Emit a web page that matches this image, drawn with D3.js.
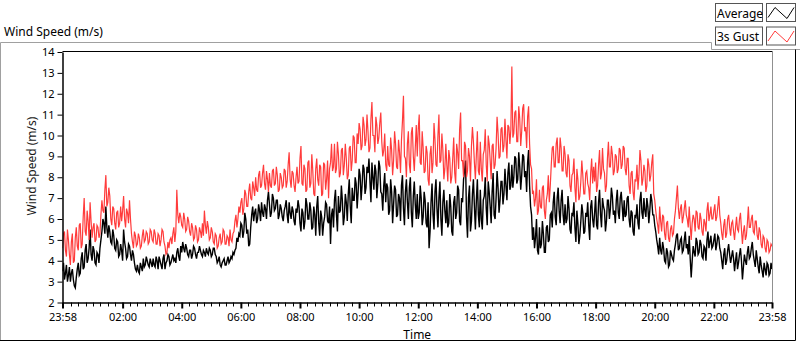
<!DOCTYPE html>
<html>
<head>
<meta charset="utf-8">
<script src="https://cdn.jsdelivr.net/npm/d3@7"></script>
<style>
  body { margin: 0; background: #fff; }
  svg { display: block; font-family: "Noto Sans", "Open Sans", sans-serif; }
</style>
</head>
<body>
<svg id="chart" width="800" height="342"></svg>
<script>
// samples every 2 minutes, first one at 23:58 the day before
const startTime = '23:58';
const sampleMinutes = 2;

// Average wind speed (m/s), one row per hour
const avgSpeed = [
  3.5,3.9,3.1,3.4,3.8,3.0,3.3,3.7,3.0,3.4,3.6,3.1,2.8,2.7,3.2,3.6,3.9,3.3,3.4,4.1,4.4,3.6,3.7,4.5,4.8,3.9,4.1,4.6,5.5,4.3,
  4.0,4.7,4.5,3.9,3.8,4.4,4.3,3.9,4.6,5.0,5.4,6.0,5.8,5.3,6.6,5.6,5.1,5.7,5.4,4.9,4.8,5.5,5.2,4.6,4.5,5.0,4.9,4.2,4.3,4.8,
  4.5,4.0,5.5,4.9,4.6,4.1,4.2,4.8,4.7,4.3,4.0,4.5,4.3,3.9,3.6,3.5,3.8,3.5,3.4,3.9,3.7,3.5,4.1,3.7,3.8,4.2,4.0,3.8,3.7,4.1,
  3.9,3.7,4.1,3.8,3.7,4.2,4.0,3.6,4.2,4.0,3.8,3.6,4.1,4.3,3.6,3.9,4.0,4.3,4.2,3.8,3.9,4.1,4.3,4.0,4.1,3.9,4.4,4.6,4.2,4.0,
  4.7,4.4,4.9,4.6,4.4,4.8,4.6,4.3,4.2,4.5,4.5,4.1,4.3,4.7,4.6,4.3,4.1,4.4,4.4,4.7,4.5,4.3,4.2,4.5,4.4,4.2,4.6,4.4,4.3,4.6,
  4.5,4.2,4.3,4.6,4.6,4.3,4.2,3.9,4.0,4.2,3.8,3.7,3.9,4.0,4.1,3.8,3.8,4.0,4.2,3.9,4.0,4.2,4.1,4.4,4.3,4.5,4.6,5.1,4.9,5.3,
  5.2,5.8,5.7,5.1,5.4,6.3,6.0,5.3,5.5,4.7,4.8,5.6,6.2,6.6,5.9,6.3,6.5,5.8,6.0,6.7,6.4,5.9,6.8,6.3,6.1,6.7,6.5,6.0,6.9,7.3,
  6.7,6.1,6.3,7.2,7.0,6.4,6.5,6.9,6.9,6.0,6.2,6.7,6.5,6.1,5.9,6.4,6.6,6.9,6.2,5.8,6.8,6.3,6.0,6.6,6.4,5.9,5.7,6.5,6.3,6.9,
  6.6,5.8,5.4,6.5,6.3,5.5,5.9,7.0,6.7,6.0,6.0,6.8,6.4,5.5,5.6,6.6,6.2,5.2,6.6,7.1,5.8,5.2,6.4,6.1,5.2,5.8,6.1,6.8,6.7,5.9,
  5.8,6.6,4.8,6.2,6.5,5.6,6.9,7.4,6.2,5.4,7.1,6.3,6.4,7.6,6.9,5.7,6.1,7.2,6.8,5.9,7.2,7.9,6.6,5.8,7.5,6.9,6.9,8.0,7.7,6.5,
  7.3,8.4,8.1,6.9,7.6,8.6,8.4,7.2,7.5,8.5,8.2,8.9,7.8,6.8,8.7,8.0,7.4,8.6,8.3,7.0,7.7,8.8,8.5,7.3,7.2,6.4,7.6,8.2,6.8,7.7,
  7.5,6.2,6.4,7.9,7.3,5.8,6.7,7.6,7.4,6.1,6.2,7.2,7.0,5.9,7.6,8.1,6.5,5.7,7.3,7.9,6.8,6.0,7.5,8.0,6.3,5.6,7.1,7.8,6.7,6.0,
  7.2,6.0,6.3,7.6,7.0,5.7,6.1,7.3,6.9,5.8,5.6,6.8,4.6,5.4,6.8,7.7,6.2,5.5,7.3,7.9,6.5,5.6,7.0,7.8,6.0,5.2,6.8,7.4,6.4,5.8,
  6.9,5.6,5.8,7.2,6.6,5.4,5.2,6.8,7.1,6.0,6.3,7.6,7.4,5.9,5.7,7.0,6.8,7.9,8.3,8.8,6.1,5.1,7.0,7.6,5.4,5.9,7.2,7.9,6.6,5.5,
  6.9,7.9,6.2,5.6,7.4,6.0,5.5,6.9,7.1,8.0,6.5,5.7,7.8,7.3,6.6,5.8,7.3,8.2,6.2,6.0,7.0,8.3,7.5,6.3,6.9,7.8,7.8,6.7,7.2,8.4,
  7.6,6.9,8.2,8.7,7.4,7.6,8.6,7.5,8.0,9.0,8.9,7.7,7.9,9.2,8.5,7.4,8.1,9.1,9.0,8.0,8.3,7.3,8.7,9.3,7.6,6.6,6.2,5.0,5.6,4.6,
  5.1,6.0,4.5,4.3,5.6,4.6,4.8,5.9,5.3,4.4,4.4,5.6,5.7,4.9,5.0,6.2,6.3,5.6,6.8,7.3,6.1,5.7,7.0,7.5,6.4,5.8,6.9,7.4,6.2,5.7,
  6.7,5.8,6.0,7.1,6.5,5.5,5.3,6.3,6.2,6.8,5.6,4.9,6.4,5.8,4.8,5.2,5.9,6.7,6.3,5.3,5.4,6.3,6.1,6.8,5.7,5.0,6.6,6.9,6.0,5.6,
  6.3,7.1,5.7,5.5,6.8,7.4,6.2,5.6,7.0,6.6,6.4,5.4,5.9,6.9,6.9,6.0,6.5,7.5,7.1,6.2,6.4,5.8,6.9,7.4,6.3,6.0,7.0,7.3,6.6,5.9,
  6.9,6.1,6.2,7.0,7.1,6.0,5.6,6.4,6.3,5.4,5.2,6.2,6.1,6.7,5.8,5.5,6.9,7.3,6.3,6.0,7.0,6.4,6.1,7.0,6.6,5.8,6.4,7.2,6.9,6.2,
  6.2,5.7,5.4,5.0,4.7,4.3,5.1,4.5,4.3,4.9,4.6,4.0,3.9,4.6,4.4,3.7,3.8,4.5,4.3,4.1,4.0,4.5,4.8,5.2,5.3,4.5,4.6,5.0,5.1,4.4,
  4.5,5.0,5.4,4.6,4.8,4.3,5.2,4.1,3.2,4.0,4.7,4.4,4.2,5.1,4.9,4.3,4.4,5.0,4.8,4.2,4.1,4.7,4.6,4.0,5.0,5.4,4.6,4.9,5.2,4.6,
  4.7,5.0,5.3,4.5,4.8,5.2,5.1,4.6,4.4,4.0,3.6,4.3,4.6,3.8,4.0,4.5,4.8,4.3,3.9,4.2,4.5,4.1,3.5,4.0,4.4,3.6,3.9,4.3,4.6,4.0,
  3.1,3.7,4.3,4.0,3.8,4.4,4.7,4.1,4.2,4.6,4.9,4.3,4.0,3.7,4.5,4.1,3.7,3.4,4.2,3.8,3.5,3.2,3.9,3.6,3.3,3.9,3.8,3.3,3.4,3.9,3.6
];

// 3 second gust (m/s)
const gustSpeed = [
  4.6,5.3,5.4,4.5,4.2,5.5,5.0,4.3,3.8,4.9,5.3,3.9,4.0,5.1,5.6,4.7,4.5,5.7,5.8,4.6,4.8,6.1,7.0,5.4,5.2,6.4,5.9,5.0,6.8,5.9,
  5.1,5.6,5.8,4.9,5.0,5.7,5.6,5.1,5.3,6.2,6.9,6.4,6.3,7.4,8.1,6.6,6.8,7.5,7.1,6.0,5.7,6.6,6.5,5.8,5.5,6.3,6.4,5.6,5.8,6.6,
  5.9,6.4,7.1,6.0,5.6,6.5,6.3,5.8,6.9,6.0,5.3,4.9,4.6,5.4,5.2,4.7,4.8,5.3,5.1,4.6,4.7,5.2,5.5,4.9,5.0,5.4,5.3,4.8,4.9,5.5,
  5.4,5.0,4.9,5.5,5.3,4.8,4.8,5.3,5.2,4.7,5.0,5.5,5.4,4.9,4.7,4.3,4.4,4.9,4.6,5.0,5.1,4.8,5.3,5.6,4.9,5.4,7.4,6.2,5.8,6.3,
  6.1,5.7,5.6,6.3,6.0,5.4,5.5,6.1,5.9,5.4,5.2,5.8,5.6,5.0,5.1,5.7,5.5,4.9,5.0,5.6,5.4,5.1,5.8,5.2,6.4,5.7,5.3,5.9,5.6,5.0,
  5.1,5.6,5.4,4.9,4.8,5.3,5.2,4.6,4.7,5.1,5.3,4.8,4.9,5.5,5.4,4.8,4.8,5.2,5.1,4.7,5.5,5.0,4.9,5.3,5.4,5.9,6.2,5.6,6.0,6.6,
  6.3,6.8,7.0,6.2,6.5,7.4,7.2,6.6,6.6,7.3,7.7,7.0,6.9,7.8,7.5,7.1,8.0,7.4,7.3,8.1,8.3,7.5,7.6,8.2,8.6,7.7,7.4,8.3,7.9,7.3,
  8.2,7.6,7.5,8.3,8.4,7.6,7.7,8.5,8.1,7.3,7.4,8.2,8.0,7.5,7.6,8.4,8.3,7.5,7.8,8.6,9.2,7.9,7.5,8.3,8.2,7.6,7.3,8.0,8.5,7.7,
  7.8,8.9,9.5,7.7,7.6,8.6,8.4,7.3,7.4,8.7,8.8,7.5,7.7,9.1,8.3,7.2,7.1,8.4,8.9,7.9,7.6,8.6,8.5,7.1,7.2,8.7,8.6,7.4,7.9,8.8,
  7.0,8.4,8.7,9.6,8.3,8.5,9.6,8.2,8.4,9.7,9.1,8.0,8.2,9.3,9.4,8.1,8.6,9.6,8.9,7.9,8.1,9.4,9.5,8.3,8.8,10.0,9.9,8.7,8.7,10.1,
  9.6,10.6,10.3,9.3,9.5,10.9,10.5,9.5,9.8,11.0,10.2,9.2,9.4,10.8,11.6,10.0,10.0,9.2,10.9,10.5,9.6,9.9,10.6,11.1,9.7,9.0,9.3,10.1,8.6,8.3,
  9.5,8.6,8.5,9.9,9.3,8.1,8.8,10.2,9.6,8.5,8.4,9.8,9.2,8.2,9.8,10.7,11.9,9.0,8.9,8.0,9.6,10.2,8.6,8.2,10.1,10.4,9.0,8.3,9.4,10.5,
  9.0,10.3,11.0,8.7,8.6,10.2,9.4,8.2,8.3,9.5,9.2,7.9,7.6,9.1,9.5,8.2,8.7,10.6,9.8,8.6,8.5,10.0,11.0,8.7,8.8,10.1,9.3,7.9,8.4,9.6,
  8.6,7.8,9.3,8.9,7.7,8.0,8.9,9.9,8.2,7.7,9.6,9.2,8.4,10.3,11.1,8.8,8.8,8.0,9.7,9.5,8.0,8.3,9.4,9.0,7.8,9.5,10.4,9.7,8.7,7.9,
  9.1,10.2,8.3,8.1,9.7,8.4,7.8,9.1,9.3,10.3,8.6,7.8,10.0,9.6,8.8,7.9,9.5,9.6,8.4,8.6,9.4,10.9,10.1,8.9,9.0,10.3,10.4,9.2,9.5,10.8,
  9.8,8.9,10.5,10.4,9.6,10.3,13.3,9.9,10.1,11.1,11.2,9.7,9.7,11.4,10.8,9.5,10.2,11.3,11.5,10.2,10.4,9.4,10.9,11.4,9.6,8.6,8.4,7.2,7.3,6.6,
  7.0,7.9,6.2,6.4,7.4,6.6,6.5,7.5,7.6,6.4,6.0,6.9,7.2,8.1,6.8,7.6,8.6,9.4,9.5,8.5,8.5,9.6,9.9,8.7,8.7,9.9,9.4,8.3,8.3,9.5,
  9.1,8.2,8.0,9.1,8.8,7.6,7.3,8.1,8.2,8.9,7.5,6.8,8.4,7.9,6.9,7.1,7.8,8.8,8.1,7.2,7.2,8.2,8.3,7.7,7.5,6.9,8.2,8.9,7.7,8.5,
  7.8,8.7,7.3,7.6,8.6,9.3,7.9,8.2,9.4,8.4,8.2,7.3,7.6,8.9,9.7,8.5,8.5,9.5,9.1,8.1,8.3,9.1,9.0,8.2,8.4,9.4,9.3,8.4,8.6,9.5,
  9.4,8.4,8.1,8.9,8.9,7.6,7.2,8.2,8.3,7.3,6.9,7.9,7.8,8.6,7.4,8.1,9.3,8.8,7.6,7.9,8.6,8.3,7.3,7.6,8.9,8.6,7.8,8.1,8.7,9.1,
  7.2,6.9,6.4,6.0,5.7,5.3,6.6,5.9,5.4,6.2,6.1,5.3,5.0,5.8,5.9,5.1,4.9,5.5,5.7,5.2,5.3,6.0,6.4,7.0,7.6,6.5,6.0,6.5,6.7,5.8,
  6.1,6.5,6.9,6.2,6.0,5.6,6.6,5.7,5.0,5.8,6.2,6.0,5.4,6.4,6.3,5.6,5.5,6.3,6.0,5.4,5.2,6.0,5.8,5.4,6.4,6.8,5.9,6.2,6.6,6.0,
  6.0,6.4,6.7,5.9,6.1,6.6,7.1,6.2,5.8,5.3,5.0,5.7,6.0,5.1,5.3,6.0,6.2,5.6,5.2,5.8,5.9,5.4,5.0,5.6,6.1,5.5,5.4,6.0,6.3,5.5,
  4.8,5.4,5.7,5.0,5.2,5.8,6.6,5.6,5.6,6.0,6.2,5.4,5.3,5.9,5.9,5.2,5.0,5.6,5.4,4.8,4.6,5.2,5.1,4.6,4.4,5.0,4.9,4.4,4.5,4.8,4.7
];

const timeLabels = ['23:58','02:00','04:00','06:00','08:00','10:00','12:00',
                    '14:00','16:00','18:00','20:00','22:00','23:58'];
const yTicks = [2,3,4,5,6,7,8,9,10,11,12,13,14];
const seriesNames = ['Average', '3s Gust'];
const seriesColors = ['#000000', '#ff3b3b'];

const svg = d3.select('#chart');
const plot = { left: 62.5, right: 772, top: 52, bottom: 302.5 };

function clock(label, day) {
  const [h, m] = label.split(':').map(Number);
  return new Date(2020, 0, day, h, m);
}
const t0 = clock(startTime, 1);
const times = avgSpeed.map((d, i) => d3.timeMinute.offset(t0, i * sampleMinutes));
const tEnd = times[times.length - 1];
const majorTimes = timeLabels.map((l, i) => i === 0 ? t0 : clock(l, 2));

const x = d3.scaleTime().domain([t0, tEnd]).range([plot.left, plot.right]);
const y = d3.scaleLinear().domain([2, 14]).range([plot.bottom, plot.top]);

// outer panel frame (steps down under the legend)
svg.append('path')
  .attr('d', 'M0.5,340 L0.5,42.5 L711.5,42.5 L711.5,49.5 L800,49.5')
  .attr('fill', 'none').attr('stroke', '#a0a0a0');
svg.append('path')
  .attr('d', 'M0,340.5 L795.5,340.5 L795.5,49.5')
  .attr('fill', 'none').attr('stroke', '#000');

svg.append('text')
  .attr('x', 4).attr('y', 36)
  .style('font-size', '12px')
  .text('Wind Speed (m/s)');

// plot area frame
svg.append('path')
  .attr('d', `M${plot.left},${plot.top - 0.5} L${plot.right + 0.5},${plot.top - 0.5}`)
  .attr('stroke', '#000').attr('fill', 'none');
svg.append('path')
  .attr('d', `M${plot.right + 0.5},${plot.top - 0.5} L${plot.right + 0.5},${plot.bottom}`)
  .attr('stroke', '#909090').attr('fill', 'none');

// series
svg.append('clipPath').attr('id', 'clip')
  .append('rect')
  .attr('x', plot.left).attr('y', plot.top - 1)
  .attr('width', plot.right - plot.left).attr('height', plot.bottom - plot.top + 1);

const line = d3.line()
  .x((d, i) => x(times[i]))
  .y(d => y(d));

const g = svg.append('g').attr('clip-path', 'url(#clip)');
g.append('path')
  .datum(avgSpeed)
  .attr('d', line)
  .attr('fill', 'none')
  .attr('stroke', seriesColors[0])
  .attr('stroke-width', 1.4);
g.append('path')
  .datum(gustSpeed)
  .attr('d', line)
  .attr('fill', 'none')
  .attr('stroke', seriesColors[1])
  .attr('stroke-width', 1.2);

// y axis
const yAxis = svg.append('g')
  .attr('transform', `translate(${plot.left},0)`)
  .call(d3.axisLeft(y).tickValues(yTicks).tickSize(5).tickPadding(3).tickSizeOuter(0));
yAxis.select('.domain').attr('stroke', '#000').attr('stroke-width', 1.5);
yAxis.selectAll('.tick line').attr('stroke', '#000');
yAxis.selectAll('.tick text')
  .style('font-size', '11px').style('font-family', '"Noto Sans", sans-serif').attr('fill', '#000');

// x axis: major ticks with labels, minor ticks every 15 min
const xAxis = svg.append('g')
  .attr('transform', `translate(0,${plot.bottom})`)
  .call(d3.axisBottom(x).tickValues(majorTimes)
    .tickFormat((d, i) => timeLabels[i]).tickSize(6).tickPadding(5).tickSizeOuter(0));
xAxis.select('.domain').attr('stroke', '#000').attr('stroke-width', 1.5);
xAxis.selectAll('.tick line').attr('stroke', '#000').attr('stroke-width', 2);
xAxis.selectAll('.tick text')
  .style('font-size', '11px').style('font-family', '"Noto Sans", sans-serif').attr('fill', '#000');

const minorTimes = d3.timeMinute.every(15).range(t0, tEnd)
  .filter(t => majorTimes.every(m => Math.abs(x(t) - x(m)) > 3));
xAxis.selectAll('.minor')
  .data(minorTimes)
  .join('line')
  .attr('class', 'minor')
  .attr('x1', d => Math.round(x(d)) + 0.5).attr('x2', d => Math.round(x(d)) + 0.5)
  .attr('y1', 0).attr('y2', 4)
  .attr('stroke', '#000');

// axis titles
svg.append('text')
  .attr('transform', 'translate(36,166) rotate(-90)')
  .attr('text-anchor', 'middle')
  .style('font-size', '12px')
  .attr('fill', '#1a1a1a')
  .text('Wind Speed (m/s)');
svg.append('text')
  .attr('x', (plot.left + plot.right) / 2).attr('y', 338.5)
  .attr('text-anchor', 'middle')
  .style('font-size', '12px')
  .text('Time');

// legend
const legend = svg.append('g');
seriesNames.forEach((name, i) => {
  const top = 3.5 + i * 23.5;
  legend.append('rect')
    .attr('x', 715.5).attr('y', top).attr('width', 47).attr('height', 18)
    .attr('fill', '#fff').attr('stroke', '#555');
  legend.append('text')
    .attr('x', 717).attr('y', top + 14)
    .style('font-size', '12px')
    .text(name);
  legend.append('rect')
    .attr('x', 766.5).attr('y', top).attr('width', 29).attr('height', 18)
    .attr('fill', '#fff').attr('stroke', '#555');
  legend.append('path')
    .attr('d', `M768,${top + 14} L775,${top + 4} L787,${top + 15} L794,${top + 4}`)
    .attr('fill', 'none').attr('stroke', seriesColors[i]).attr('stroke-width', 1);
});
</script>
</body>
</html>
